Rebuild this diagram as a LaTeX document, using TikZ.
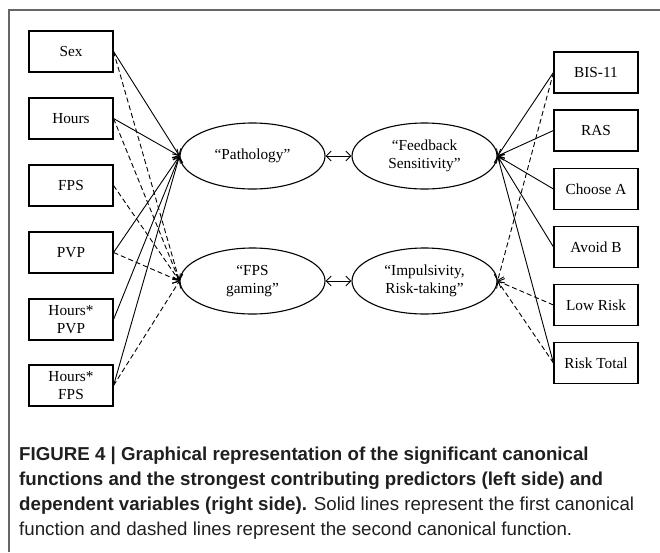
\documentclass[tikz,border=0pt]{standalone}
\usepackage{fontspec}
\setmainfont{Liberation Serif}
\newfontfamily\capfont{Liberation Sans}
\usetikzlibrary{shapes.geometric}
\usetikzlibrary{arrows.meta}

\begin{document}
\begin{tikzpicture}[x=1pt,y=-1pt]
\tikzset{var/.style = {shape=rectangle,draw,line width=1.1pt,minimum width=84pt,minimum height=41pt,inner sep=1pt,align=center,font=\fontsize{15.3}{17.5}\selectfont}}
\tikzset{factor/.style = {shape=ellipse,draw,line width=1.1pt,minimum width=145pt,minimum height=66pt,inner sep=0pt,align=center,font=\fontsize{15.3}{17.5}\selectfont}}
\tikzset{edge/.style = {->,line width=0.9pt,>={Straight Barb[length=5pt,width=10pt]}}}
\tikzset{dedge/.style = {edge,dash pattern=on 5pt off 3pt}}
\useasboundingbox (0,0) rectangle (660,552);
\draw[line width=1.3pt,gray!80!black] (9,552) -- (9,10) -- (660,10);
% predictors
\node[var](sex) at (71,51.5) {Sex};
\node[var](hours) at (71,118.5) {Hours};
\node[var](fps) at (71,185.5) {FPS};
\node[var](pvp) at (71,252.5) {PVP};
\node[var](hpvp) at (71,319.5) {Hours*\\PVP};
\node[var](hfps) at (71,385.5) {Hours*\\FPS};
% canonical functions
\node[factor](patho) at (252.5,156) {``Pathology''};
\node[factor](fpsg) at (252.5,281) {``FPS\\gaming''};
\node[factor](feed) at (424.5,156) {``Feedback\\Sensitivity''};
\node[factor](impu) at (424.5,281) {``Impulsivity,\\Risk-taking''};
% dependent variables
\node[var](bis) at (596,72.5) {BIS-11};
\node[var](ras) at (596,130.5) {RAS};
\node[var](choa) at (596,189) {Choose A};
\node[var](avob) at (596,247) {Avoid B};
\node[var](lowr) at (596,305) {Low Risk};
\node[var](riskt) at (596,363) {Risk Total};
% first function
\draw[edge] (sex.east) -- (patho.west);
\draw[edge] (hours.east) -- (patho.west);
\draw[edge] (pvp.east) -- (patho.west);
\draw[edge] (hpvp.east) -- (patho.west);
\draw[edge] (hfps.east) -- (patho.west);
\draw[edge] (bis.west) -- (feed.east);
\draw[edge] (ras.west) -- (feed.east);
\draw[edge] (choa.west) -- (feed.east);
\draw[edge] (avob.west) -- (feed.east);
\draw[edge] (riskt.west) -- (feed.east);
% second function
\draw[dedge] (sex.east) -- (fpsg.west);
\draw[dedge] (hours.east) -- (fpsg.west);
\draw[dedge] (fps.east) -- (fpsg.west);
\draw[dedge] (pvp.east) -- (fpsg.west);
\draw[dedge] (hfps.east) -- (fpsg.west);
\draw[dedge] (bis.west) -- (impu.east);
\draw[dedge] (lowr.west) -- (impu.east);
\draw[dedge] (riskt.west) -- (impu.east);
% correlations
\draw[edge,<->] (patho) -- (feed);
\draw[edge,<->] (fpsg) -- (impu);
% caption
\node[anchor=base west,inner sep=0pt,align=left,text=black!88,font=\capfont\fontsize{18.7}{25}\selectfont](cap) at (19,535)
{\textbf{FIGURE 4 | Graphical representation of the significant canonical}\\
\textbf{functions and the strongest contributing predictors (left side) and}\\
\textbf{dependent variables (right side).} Solid lines represent the first canonical\\
function and dashed lines represent the second canonical function.};
\end{tikzpicture}
\end{document}
